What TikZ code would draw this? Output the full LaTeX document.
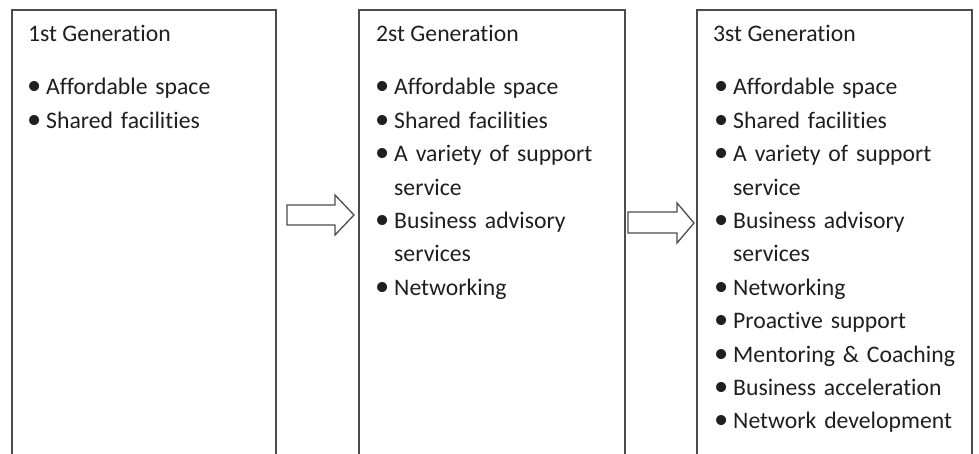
\documentclass[tikz,border=0pt]{standalone}
\usepackage{fontspec}
\setmainfont{Carlito}[Ligatures=NoCommon]
\usetikzlibrary{positioning}

% one bullet line, hanging indent for the wrapped part
\newcommand{\genitem}[1]{\hangindent=19pt\hangafter=1\makebox[19pt][l]{\scalebox{1.2}{\textbullet}}#1\par}

\begin{document}
\begin{tikzpicture}[x=1pt, y=-1pt,
	every node/.style={font=\fontsize{23.7}{33.4}\selectfont, text=black!88, inner sep=0pt},
	genbox/.style={draw=black!70, line width=1.4pt},
	gentitle/.style={anchor=base west},
	genlist/.style={anchor=base west, text width=250pt},
	genarrow/.style={draw=black!70, line width=1.3pt, fill=white, line join=miter}
	]
	\useasboundingbox (0,0) rectangle (979,454);

	% the three boxes, open at the bottom
	\draw[genbox] (12,470) |- (276,10) -- (276,470);
	\draw[genbox] (359,470) |- (625,10) -- (625,470);
	\draw[genbox] (697,470) |- (972,10) -- (972,470);

	\node[gentitle] (title1) at (28,42) {1st Generation};
	\node[gentitle] (title2) at (376,42) {2st Generation};
	\node[gentitle] (title3) at (713,42) {3st Generation};

	\node[genlist] (list1) at (27,95) {\raggedright
		\genitem{Affordable space}
		\genitem{Shared facilities}};
	\node[genlist] (list2) at (375,95) {\raggedright
		\genitem{Affordable space}
		\genitem{Shared facilities}
		\genitem{A variety of support\newline service}
		\genitem{Business advisory\newline services}
		\genitem{Networking}};
	\node[genlist] (list3) at (714,95) {\raggedright
		\genitem{Affordable space}
		\genitem{Shared facilities}
		\genitem{A variety of support\newline service}
		\genitem{Business advisory\newline services}
		\genitem{Networking}
		\genitem{Proactive support}
		\genitem{Mentoring \& Coaching}
		\genitem{Business acceleration}
		\genitem{Network development}};

	% hollow block arrows
	\draw[genarrow] (287,205) -- (335,205) -- (335,195) -- (354,215)
		-- (335,235) -- (335,225) -- (287,225) -- cycle;
	\draw[genarrow] (628,212) -- (677,212) -- (677,203) -- (694,223)
		-- (677,243) -- (677,233) -- (628,233) -- cycle;
\end{tikzpicture}
\end{document}
